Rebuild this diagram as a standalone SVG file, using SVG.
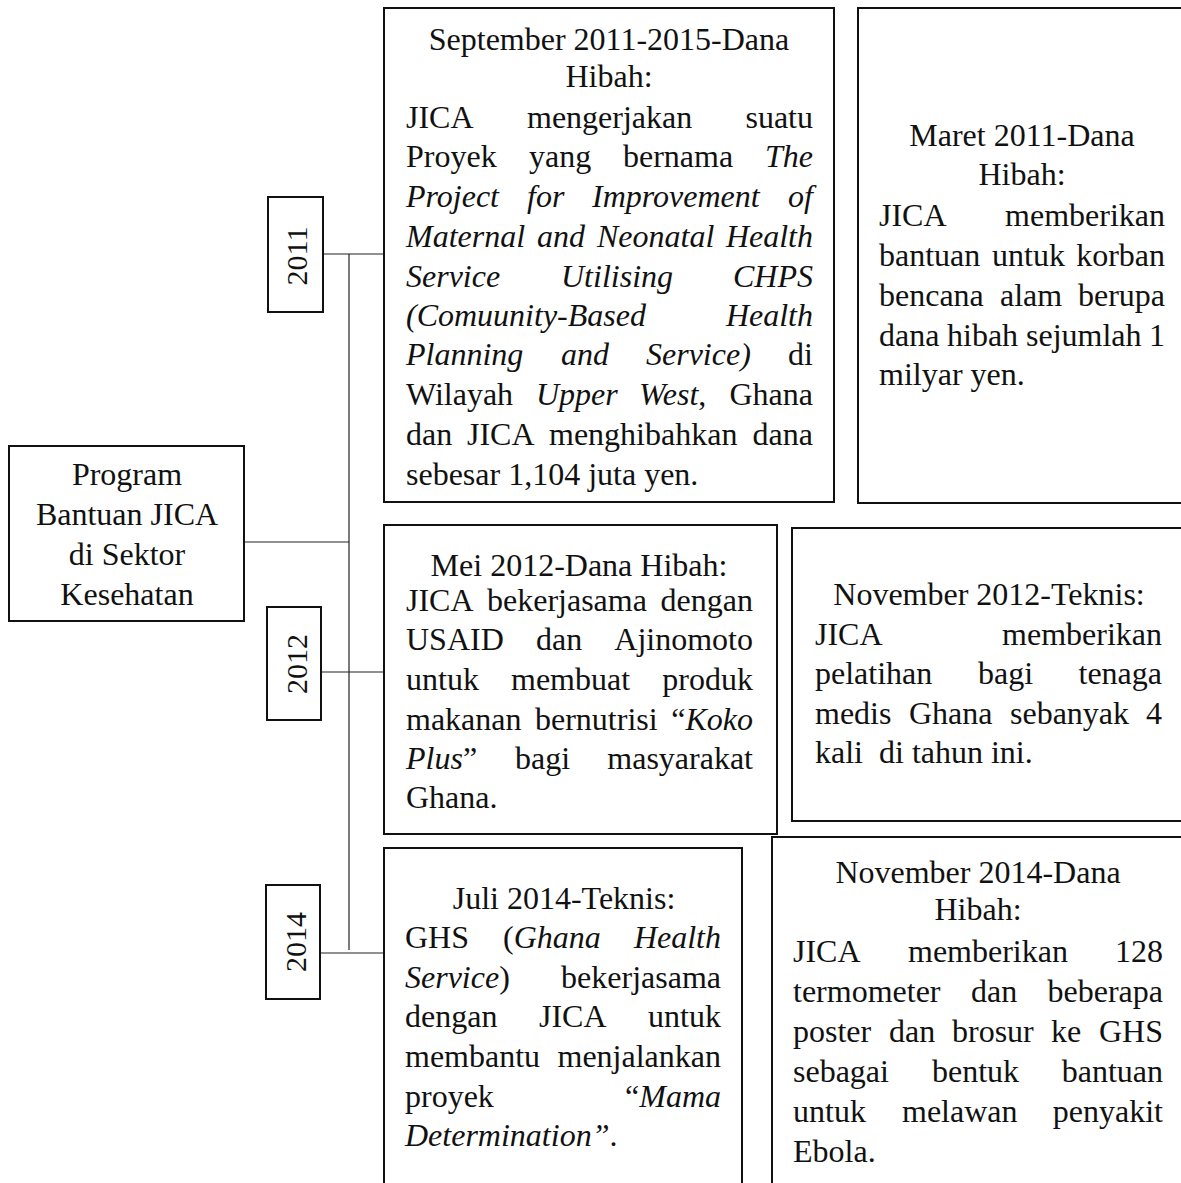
<svg xmlns="http://www.w3.org/2000/svg" width="1181" height="1183" viewBox="0 0 1181 1183">
<style>
.t{font-family:"Liberation Serif","Times New Roman",serif;font-size:32px;fill:#111}
.y{font-size:30px}
.i{font-style:italic}
.m{text-anchor:middle}
.e{text-anchor:end}
.box{fill:none;stroke:#111;stroke-width:2}
.conn{fill:none;stroke:#222;stroke-width:1.2}
</style>
<rect width="1181" height="1183" fill="#fff"/>
<g id="connectors">
<line class="conn" x1="244" y1="542" x2="349" y2="542"/>
<line class="conn" x1="349" y1="254" x2="349" y2="950"/>
<line class="conn" x1="323" y1="254" x2="384" y2="254"/>
<line class="conn" x1="321" y1="672" x2="384" y2="672"/>
<line class="conn" x1="320" y1="953" x2="384" y2="953"/>
</g>
<g id="root">
<rect class="box" x="9" y="446" width="235" height="175"/>
<text class="t m" x="127" y="485">Program</text>
<text class="t m" x="127" y="525">Bantuan JICA</text>
<text class="t m" x="127" y="565">di Sektor</text>
<text class="t m" x="127" y="605">Kesehatan</text>
</g>
<g id="y2011">
<rect class="box" x="268" y="197" width="55" height="115"/>
<text class="t y m" transform="translate(307,256) rotate(-90)">2011</text>
</g>
<g id="y2012">
<rect class="box" x="267" y="607" width="54" height="113"/>
<text class="t y m" transform="translate(307,664) rotate(-90)">2012</text>
</g>
<g id="y2014">
<rect class="box" x="266" y="885" width="54" height="114"/>
<text class="t y m" transform="translate(306,942) rotate(-90)">2014</text>
</g>
<g id="sept2011">
<rect class="box" x="384" y="8" width="450" height="494"/>
<text class="t m" x="609" y="50">September 2011-2015-Dana</text>
<text class="t m" x="609" y="87">Hibah:</text>
<text class="t" y="128"><tspan x="406">JICA</tspan><tspan x="527">mengerjakan</tspan><tspan x="813" class="e">suatu</tspan></text>
<text class="t" y="167"><tspan x="406">Proyek</tspan><tspan x="529">yang</tspan><tspan x="623">bernama</tspan><tspan x="813" class="e i">The</tspan></text>
<text class="t i" y="207"><tspan x="406">Project</tspan><tspan x="527">for</tspan><tspan x="592">Improvement</tspan><tspan x="813" class="e">of</tspan></text>
<text class="t i" y="247"><tspan x="406">Maternal</tspan><tspan x="537">and</tspan><tspan x="597">Neonatal</tspan><tspan x="813" class="e">Health</tspan></text>
<text class="t i" y="287"><tspan x="406">Service</tspan><tspan x="561">Utilising</tspan><tspan x="813" class="e">CHPS</tspan></text>
<text class="t i" y="326"><tspan x="406">(Comuunity-Based</tspan><tspan x="813" class="e">Health</tspan></text>
<text class="t" y="365"><tspan x="406" class="i">Planning</tspan><tspan x="561" class="i">and</tspan><tspan x="646" class="i">Service)</tspan><tspan x="813" class="e">di</tspan></text>
<text class="t" y="405"><tspan x="406">Wilayah</tspan><tspan x="536" class="i">Upper</tspan><tspan x="639"><tspan class="i">West</tspan>,</tspan><tspan x="813" class="e">Ghana</tspan></text>
<text class="t" y="445"><tspan x="406">dan</tspan><tspan x="467">JICA</tspan><tspan x="549">menghibahkan</tspan><tspan x="813" class="e">dana</tspan></text>
<text class="t" x="406" y="485">sebesar 1,104 juta yen.</text>
</g>
<g id="maret2011">
<rect class="box" x="858" y="8" width="330" height="495"/>
<text class="t m" x="1022" y="146">Maret 2011-Dana</text>
<text class="t m" x="1022" y="185">Hibah:</text>
<text class="t" y="226"><tspan x="879">JICA</tspan><tspan x="1165" class="e">memberikan</tspan></text>
<text class="t" y="266"><tspan x="879">bantuan</tspan><tspan x="992">untuk</tspan><tspan x="1165" class="e">korban</tspan></text>
<text class="t" y="306"><tspan x="879">bencana</tspan><tspan x="1000">alam</tspan><tspan x="1165" class="e">berupa</tspan></text>
<text class="t" y="346"><tspan x="879">dana</tspan><tspan x="947">hibah</tspan><tspan x="1026">sejumlah</tspan><tspan x="1165" class="e">1</tspan></text>
<text class="t" x="879" y="385">milyar yen.</text>
</g>
<g id="mei2012">
<rect class="box" x="384" y="525" width="393" height="309"/>
<text class="t m" x="579" y="576">Mei 2012-Dana Hibah:</text>
<text class="t" y="611"><tspan x="406">JICA</tspan><tspan x="487">bekerjasama</tspan><tspan x="753" class="e">dengan</tspan></text>
<text class="t" y="650"><tspan x="406">USAID</tspan><tspan x="536">dan</tspan><tspan x="753" class="e">Ajinomoto</tspan></text>
<text class="t" y="690"><tspan x="406">untuk</tspan><tspan x="511">membuat</tspan><tspan x="753" class="e">produk</tspan></text>
<text class="t" y="730"><tspan x="406">makanan</tspan><tspan x="535">bernutrisi</tspan><tspan x="753" class="e">“<tspan class="i">Koko</tspan></tspan></text>
<text class="t" y="769"><tspan x="406"><tspan class="i">Plus</tspan>”</tspan><tspan x="515">bagi</tspan><tspan x="753" class="e">masyarakat</tspan></text>
<text class="t" x="406" y="808">Ghana.</text>
</g>
<g id="nov2012">
<rect class="box" x="792" y="528" width="400" height="293"/>
<text class="t m" x="989" y="605">November 2012-Teknis:</text>
<text class="t" y="645"><tspan x="815">JICA</tspan><tspan x="1162" class="e">memberikan</tspan></text>
<text class="t" y="684"><tspan x="815">pelatihan</tspan><tspan x="978">bagi</tspan><tspan x="1162" class="e">tenaga</tspan></text>
<text class="t" y="724"><tspan x="815">medis</tspan><tspan x="909">Ghana</tspan><tspan x="1010">sebanyak</tspan><tspan x="1162" class="e">4</tspan></text>
<text class="t" x="815" y="763" style="white-space:pre">kali  di tahun ini.</text>
</g>
<g id="juli2014">
<rect class="box" x="384" y="848" width="358" height="350"/>
<text class="t m" x="564" y="909">Juli 2014-Teknis:</text>
<text class="t" y="948"><tspan x="405">GHS</tspan><tspan x="503">(<tspan class="i">Ghana</tspan></tspan><tspan x="721" class="e i">Health</tspan></text>
<text class="t" y="988"><tspan x="405"><tspan class="i">Service</tspan>)</tspan><tspan x="721" class="e">bekerjasama</tspan></text>
<text class="t" y="1027"><tspan x="405">dengan</tspan><tspan x="539">JICA</tspan><tspan x="721" class="e">untuk</tspan></text>
<text class="t" y="1067"><tspan x="405">membantu</tspan><tspan x="721" class="e">menjalankan</tspan></text>
<text class="t" y="1107"><tspan x="405">proyek</tspan><tspan x="721" class="e">“<tspan class="i">Mama</tspan></tspan></text>
<text class="t" x="405" y="1146"><tspan class="i">Determination”</tspan>.</text>
</g>
<g id="nov2014">
<rect class="box" x="772" y="837" width="420" height="360"/>
<text class="t m" x="978" y="883">November 2014-Dana</text>
<text class="t m" x="978" y="920">Hibah:</text>
<text class="t" y="962"><tspan x="793">JICA</tspan><tspan x="908">memberikan</tspan><tspan x="1163" class="e">128</tspan></text>
<text class="t" y="1002"><tspan x="793">termometer</tspan><tspan x="971">dan</tspan><tspan x="1163" class="e">beberapa</tspan></text>
<text class="t" y="1042"><tspan x="793">poster</tspan><tspan x="889">dan</tspan><tspan x="952">brosur</tspan><tspan x="1051">ke</tspan><tspan x="1163" class="e">GHS</tspan></text>
<text class="t" y="1082"><tspan x="793">sebagai</tspan><tspan x="932">bentuk</tspan><tspan x="1163" class="e">bantuan</tspan></text>
<text class="t" y="1122"><tspan x="793">untuk</tspan><tspan x="902">melawan</tspan><tspan x="1163" class="e">penyakit</tspan></text>
<text class="t" x="793" y="1162">Ebola.</text>
</g>
</svg>
